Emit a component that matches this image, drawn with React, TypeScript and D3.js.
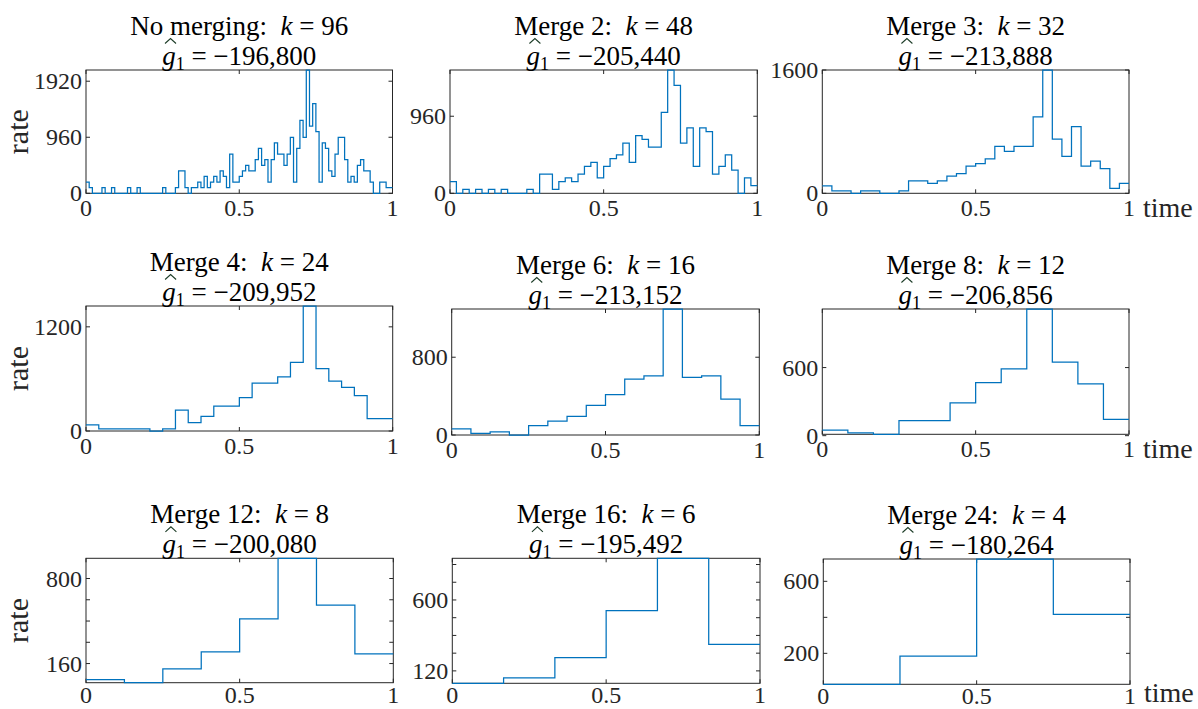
import React, { useEffect, useRef } from 'react';
import * as d3 from 'd3';

// ---------- data (rates) ----------
const rates96 = [
  192, 96, 0, 0, 0, 96, 0, 0, 96, 0,
  0, 0, 0, 96, 0, 0, 96, 0, 0, 0,
  0, 0, 0, 0, 96, 0, 0, 0, 96, 384,
  384, 96, 0, 96, 96, 192, 96, 288, 96, 192,
  288, 192, 384, 288, 96, 672, 192, 192, 288, 384,
  480, 384, 384, 576, 768, 480, 576, 192, 576, 864,
  672, 672, 480, 672, 960, 192, 768, 1248, 960, 2112,
  1152, 1536, 1056, 192, 864, 768, 384, 288, 672, 960,
  960, 576, 192, 288, 192, 480, 576, 384, 384, 192,
  0, 0, 192, 192, 96, 96,
];
const rates48 = [
  144, 0, 48, 0, 48, 0, 48, 0, 48, 0,
  0, 0, 48, 0, 240, 240, 48, 144, 192, 144,
  240, 336, 384, 192, 336, 432, 480, 624, 384, 720,
  672, 576, 576, 1008, 1536, 1344, 624, 816, 336, 816,
  768, 240, 336, 480, 288, 0, 192, 96,
];
const rates32 = [
  96, 32, 32, 0, 32, 32, 0, 0, 32, 160,
  160, 128, 160, 224, 256, 352, 384, 448, 608, 544,
  608, 608, 992, 1600, 704, 480, 864, 352, 416, 320,
  64, 128,
];
const rates24 = [72, 24, 24, 24, 24, 0, 24, 240, 96, 168, 288, 288, 384, 552, 552, 624, 792, 1440, 720, 576, 504, 408, 144, 144];
const rates16 = [64, 16, 32, 0, 96, 144, 192, 304, 416, 576, 608, 1296, 592, 608, 368, 96];
const rates12 = [48, 24, 12, 132, 132, 288, 468, 588, 1116, 648, 456, 144];
const rates8 = [40, 16, 120, 248, 496, 952, 600, 232];
const rates6 = [36, 72, 210, 528, 882, 300];
const rates4 = [28, 184, 724, 416];

const panelRates = [rates96, rates48, rates32, rates24, rates16, rates12, rates8, rates6, rates4];
const mergeLabels = ['No merging:', 'Merge 2:', 'Merge 3:', 'Merge 4:', 'Merge 6:', 'Merge 8:', 'Merge 12:', 'Merge 16:', 'Merge 24:'];
const kValues = ['96', '48', '32', '24', '16', '12', '8', '6', '4'];
const gValues = ['\u2212196,800', '\u2212205,440', '\u2212213,888', '\u2212209,952', '\u2212213,152', '\u2212206,856', '\u2212200,080', '\u2212195,492', '\u2212180,264'];
const yTicks = [
  [0, 960, 1920], [0, 960], [0, 1600],
  [0, 1200], [0, 800], [0, 600],
  [160, 320, 480, 640, 800], [120, 240, 360, 480, 600, 720, 840], [200, 400, 600],
];
const yTickLabels = [
  [0, 960, 1920], [0, 960], [0, 1600],
  [0, 1200], [0, 800], [0, 600],
  [160, 800], [120, 600], [200, 600],
];
const xTicks = [0, 0.5, 1];
const xTickLabels = ['0', '0.5', '1'];
const yLabel = 'rate';
const xLabel = 'time';

// ---------- layout ----------
const W = 1198;
const H = 709;
const layout = [
  { x0: 86, x1: 392.5, y0: 70, y1: 193.3 },
  { x0: 450, x1: 757.3, y0: 70, y1: 193.3 },
  { x0: 822.3, x1: 1129, y0: 70, y1: 193.3 },
  { x0: 86, x1: 392.7, y0: 306, y1: 431 },
  { x0: 451.7, x1: 759.3, y0: 309, y1: 435 },
  { x0: 822.3, x1: 1129, y0: 309, y1: 434.3 },
  { x0: 86, x1: 393.3, y0: 558.3, y1: 682.7 },
  { x0: 452.3, x1: 760, y0: 558.3, y1: 683.3 },
  { x0: 823.3, x1: 1130, y0: 559, y1: 684.3 },
];

const FONT = "'Liberation Serif', 'Times New Roman', Times, serif";
const AX = '#262626';
const BLUE = '#0072BD';

export default function App() {
  const ref = useRef<SVGSVGElement | null>(null);

  useEffect(() => {
    const svg = d3.select(ref.current);
    svg.selectAll('*').remove();
    svg.append('rect').attr('width', W).attr('height', H).attr('fill', '#fff');

    panelRates.forEach((vals, p) => {
      const L = layout[p];
      const n = vals.length;
      const x = d3.scaleLinear().domain([0, 1]).range([L.x0, L.x1]);
      const y = d3.scaleLinear().domain([d3.min(vals) as number, d3.max(vals) as number]).range([L.y1, L.y0]);
      const g = svg.append('g');
      const col = p % 3;
      const row = Math.floor(p / 3);
      const xLabOff = row === 2 ? 20 : 23;

      // box
      g.append('rect')
        .attr('x', L.x0).attr('y', L.y0)
        .attr('width', L.x1 - L.x0).attr('height', L.y1 - L.y0)
        .attr('fill', 'none').attr('stroke', AX).attr('stroke-width', 1);

      const tl = 4;
      // x ticks (bottom & top, inward)
      xTicks.forEach((t, i) => {
        const xx = x(t);
        g.append('line').attr('x1', xx).attr('x2', xx).attr('y1', L.y1).attr('y2', L.y1 - tl).attr('stroke', AX);
        g.append('line').attr('x1', xx).attr('x2', xx).attr('y1', L.y0).attr('y2', L.y0 + tl).attr('stroke', AX);
        g.append('text')
          .attr('x', xx).attr('y', L.y1 + xLabOff)
          .attr('text-anchor', 'middle')
          .attr('font-family', FONT).attr('font-size', 24).attr('fill', AX)
          .text(xTickLabels[i]);
      });
      // y ticks (left & right, inward)
      yTicks[p].forEach((t) => {
        const yy = y(t);
        g.append('line').attr('x1', L.x0).attr('x2', L.x0 + tl).attr('y1', yy).attr('y2', yy).attr('stroke', AX);
        g.append('line').attr('x1', L.x1).attr('x2', L.x1 - tl).attr('y1', yy).attr('y2', yy).attr('stroke', AX);
      });
      yTickLabels[p].forEach((t) => {
        g.append('text')
          .attr('x', L.x0 - 4).attr('y', y(t) + 8)
          .attr('text-anchor', 'end')
          .attr('font-family', FONT).attr('font-size', 24).attr('fill', AX)
          .text(String(t));
      });

      // stairs
      const pts: [number, number][] = vals.map((v, i) => [i / n, v]);
      pts.push([1, vals[n - 1]]);
      const line = d3.line<[number, number]>()
        .x((d) => x(d[0]))
        .y((d) => y(d[1]))
        .curve(d3.curveStepAfter);
      g.append('path')
        .attr('d', line(pts) as string)
        .attr('fill', 'none').attr('stroke', BLUE).attr('stroke-width', 1.25);

      // axis labels
      if (col === 0) {
        const cy = (L.y0 + L.y1) / 2;
        g.append('text')
          .attr('transform', `translate(28,${cy}) rotate(-90)`)
          .attr('text-anchor', 'middle')
          .attr('font-family', FONT).attr('font-size', 30).attr('fill', AX)
          .text(yLabel);
      }
      if (col === 2) {
        g.append('text')
          .attr('x', L.x1 + 14).attr('y', L.y1 + (row === 2 ? 18 : 24))
          .attr('font-family', FONT).attr('font-size', 28).attr('fill', AX)
          .text(xLabel);
      }

      // titles
      const cx = (L.x0 + L.x1) / 2;
      const t1 = g.append('text')
        .attr('x', cx).attr('y', L.y0 - 35)
        .attr('text-anchor', 'middle')
        .attr('font-family', FONT).attr('font-size', 27).attr('fill', '#000');
      t1.append('tspan').text(mergeLabels[p] + '\u00A0\u00A0');
      t1.append('tspan').attr('font-style', 'italic').text('k');
      t1.append('tspan').text('\u00A0=\u00A0' + kValues[p]);

      const base2 = L.y0 - 5;
      const t2 = g.append('text')
        .attr('x', cx).attr('y', base2)
        .attr('text-anchor', 'middle')
        .attr('font-family', FONT).attr('font-size', 27).attr('fill', '#000');
      t2.append('tspan').attr('font-style', 'italic').text('g');
      t2.append('tspan').attr('font-size', 18).attr('dy', 5).text('1');
      t2.append('tspan').attr('dy', -5).text('\u00A0=\u00A0' + gValues[p]);

      const node = t2.node() as SVGTextElement;
      let gx = cx - 72;
      let gw = 13.5;
      try {
        const ext = node.getExtentOfChar(0);
        gx = ext.x;
        gw = ext.width;
      } catch (e) { /* ignore */ }
      const hc = gx + gw * 0.62;
      const hy = base2 - 26.5;
      g.append('path')
        .attr('d', `M${hc - 5.5},${hy + 5} L${hc},${hy} L${hc + 5.5},${hy + 5}`)
        .attr('fill', 'none').attr('stroke', '#1d3d28').attr('stroke-width', 1.1);
    });
  }, []);

  return (
    <svg
      ref={ref}
      width={W}
      height={H}
      style={{ position: 'absolute', left: 0, top: 0, display: 'block' }}
    />
  );
}
